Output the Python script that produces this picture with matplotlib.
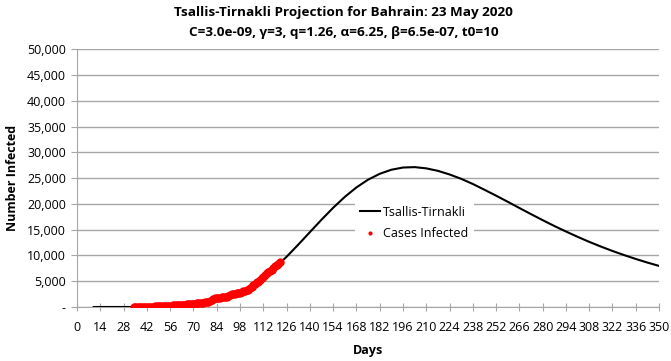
import matplotlib.pyplot as plt
from matplotlib.ticker import FuncFormatter

# Model curve (day, number infected)
model_days = [10, 14, 21, 28, 35, 42, 49, 56, 63, 70, 77, 84, 91, 98, 105, 112,
              119, 126, 133, 140, 147, 154, 161, 168, 175, 182, 189, 196, 203,
              210, 217, 224, 231, 238, 245, 252, 259, 266, 273, 280, 287, 294,
              301, 308, 315, 322, 329, 336, 343, 350]
model_vals = [0, 0, 0, 0, 2, 8, 25, 70, 163, 339, 641, 1121, 1828, 2805, 4093,
              5694, 7590, 9745, 12088, 14514, 16935, 19246, 21360, 23196, 24704,
              25840, 26630, 27060, 27140, 26900, 26420, 25720, 24870, 23870,
              22750, 21600, 20420, 19210, 18020, 16850, 15720, 14650, 13620,
              12640, 11730, 10870, 10070, 9320, 8620, 7970]

# Reported cases, one value per day starting at day 34
case_start = 34
cases = [33, 36, 36, 38,
         41, 47, 49, 49, 52, 55, 60, 85, 95, 110, 195, 195, 210, 211, 214, 214,
         228, 256, 278, 285, 305, 334, 377, 392, 419, 458, 466, 476, 499, 515, 567,
         569, 643, 672, 688, 700, 756, 811, 823, 887, 925, 1040, 1136, 1361, 1528,
         1671, 1700, 1740, 1773, 1881, 1952, 1973, 2027, 2217, 2411, 2489, 2518,
         2588, 2647, 2723, 2811,
         2921, 3040, 3170, 3284, 3383, 3720, 3934, 4199, 4444, 4774, 4941, 5236,
         5531, 5816, 6198, 6583, 6747, 6956, 7184, 7532, 7888, 8174, 8414, 8802]
case_days = list(range(case_start, case_start + len(cases)))

plt.rcParams['font.family'] = ['Open Sans', 'DejaVu Sans']

fig = plt.figure(figsize=(6.71, 3.61), dpi=100)
ax = fig.add_axes([0.1148, 0.1496, 0.8674, 0.7138])

ax.plot(model_days, model_vals, color='black', linewidth=1.5, label='Tsallis-Tirnakli', zorder=3)
ax.plot(case_days, cases, 'o', color='red', markersize=6, markeredgewidth=0,
        label='Cases Infected', zorder=4)

ax.set_xlim(0, 350)
ax.set_ylim(0, 50000)
ax.set_xticks(range(0, 351, 14))
ax.set_yticks(range(0, 50001, 5000))
ax.yaxis.set_major_formatter(FuncFormatter(lambda v, p: '-' if v == 0 else f'{int(v):,}'))

ax.grid(axis='y', color='#a6a6a6', linewidth=1)
ax.set_axisbelow(True)
for s in ['top', 'right']:
    ax.spines[s].set_visible(False)
for s in ['left', 'bottom']:
    ax.spines[s].set_color('#a6a6a6')
ax.tick_params(axis='x', direction='inout', length=6, color='#a6a6a6', labelsize=9, pad=7)
ax.tick_params(axis='y', direction='out', length=4, color='#a6a6a6', labelsize=9, pad=4)

ax.set_xlabel('Days', fontsize=9, fontweight='bold', labelpad=7)
ax.set_ylabel('Number Infected', fontsize=9, fontweight='bold', labelpad=6)

fig.text(0.512, 0.965, 'Tsallis-Tirnakli Projection for Bahrain: 23 May 2020',
         ha='center', va='center', fontsize=9.7, fontweight='bold')
fig.text(0.512, 0.91, 'C=3.0e-09, \u03b3=3, q=1.26, \u03b1=6.25, \u03b2=6.5e-07, t0=10',
         ha='center', va='center', fontsize=9.7, fontweight='bold')

leg = ax.legend(loc='center', bbox_to_anchor=(0.579, 0.326), frameon=True, fontsize=9,
                handlelength=1.6, handletextpad=0.3, labelspacing=0.7, markerscale=0.5)
leg.get_frame().set_edgecolor('none')
leg.get_frame().set_facecolor('white')
leg.get_frame().set_alpha(1)

fig.savefig('out.png', dpi=100)
